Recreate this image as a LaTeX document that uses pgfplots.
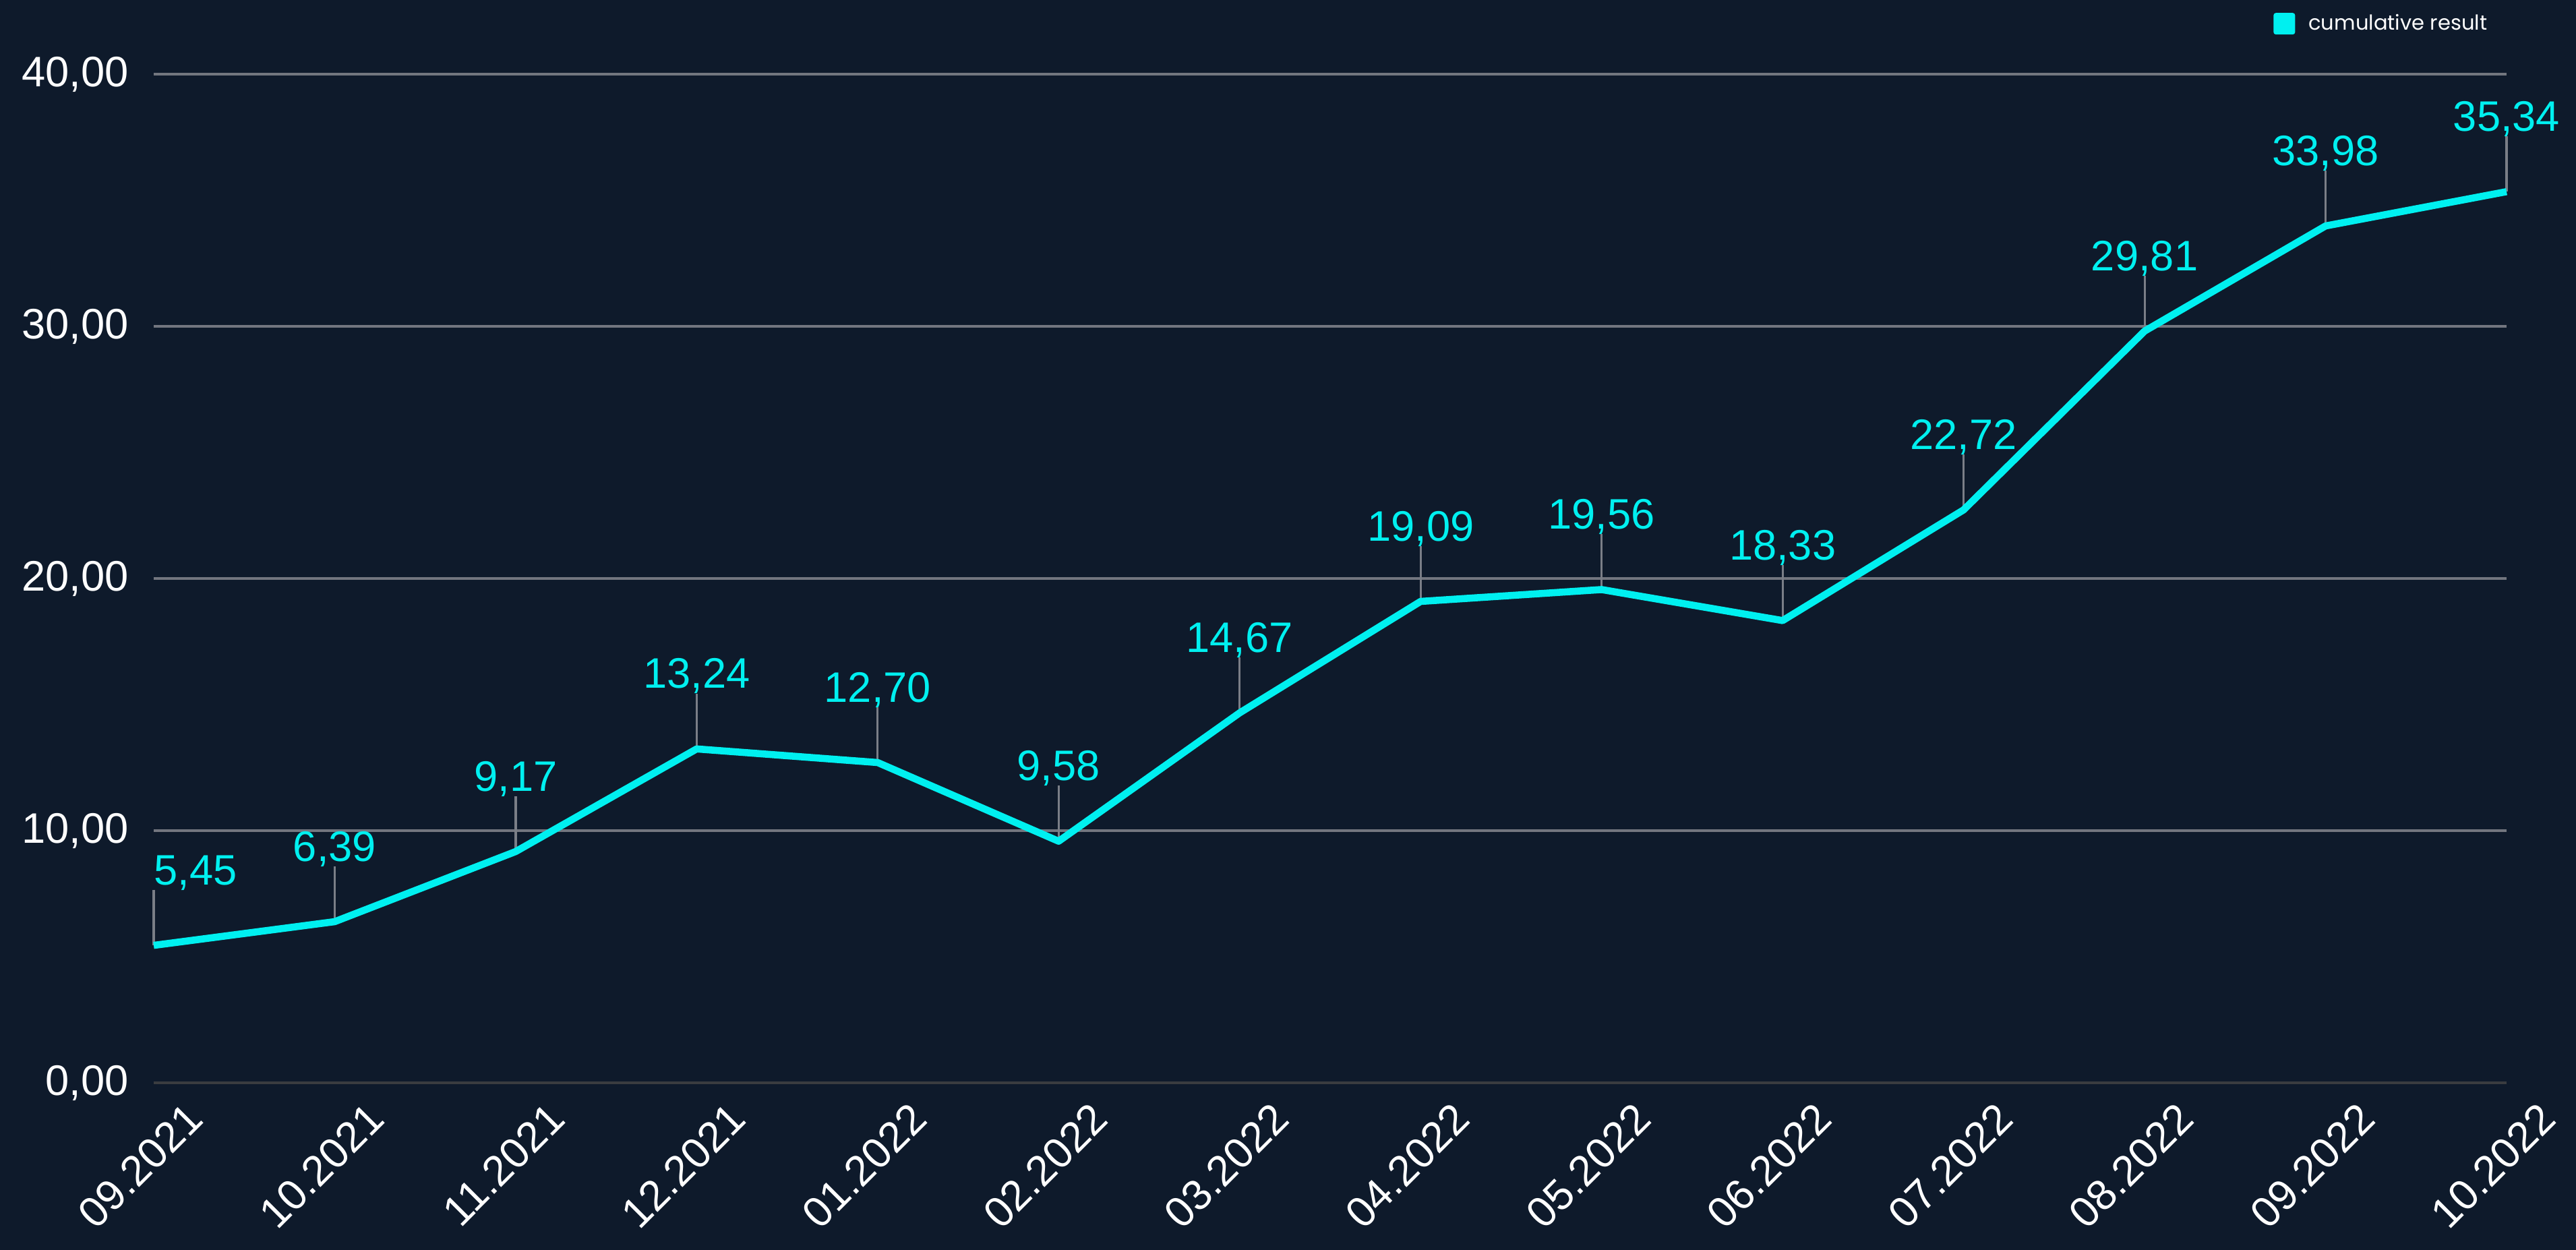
\documentclass[border=0pt]{standalone}
\usepackage{pgfplots}
\pgfplotsset{compat=1.18}
\usepackage{fontspec}
\setmainfont{Liberation Sans}
\newfontfamily\legfont{Poppins}
\definecolor{bg}{HTML}{0E1A2B}
\definecolor{cy}{HTML}{00F0F0}
\definecolor{gridc}{HTML}{72767F}
\definecolor{zeroc}{HTML}{3A3C40}
\definecolor{leadc}{HTML}{7A7E87}
\begin{document}
\begin{tikzpicture}
\fill[bg] (-2.28cm,-2.48cm) rectangle (35.93cm,16.06cm);
\begin{axis}[
  at={(0,0)}, anchor=south west,
  scale only axis, width=34.9cm, height=14.96cm,
  xmin=0, xmax=13, ymin=0, ymax=40,
  axis line style={draw=none},
  clip=false,
  ytick={0,10,20,30,40},
  xtick={0,...,13},
  xticklabels={09.2021,10.2021,11.2021,12.2021,01.2022,02.2022,03.2022,04.2022,05.2022,06.2022,07.2022,08.2022,09.2022,10.2022},
  ymajorgrids, grid style={gridc, line width=0.9pt},
  major tick length=0pt,
  tick label style={text=white, font=\fontsize{18}{20}\selectfont},
  yticklabel style={/pgf/number format/fixed, /pgf/number format/fixed zerofill, /pgf/number format/precision=2, /pgf/number format/use comma, /pgf/number format/assume math mode=true, xshift=-0.25cm},
  xticklabel style={rotate=45, anchor=north east, inner sep=0pt, xshift=0.14cm, yshift=-0.5cm},
  legend style={at={(0.997,1.05)}, anchor=east, draw=none, fill=none, text=white, font=\legfont\fontsize{8.7}{10}\selectfont},
  legend cell align=left,
  legend image code/.code={\fill[cy, draw=none, rounded corners=1pt] (0cm,-0.16cm) rectangle (0.32cm,0.16cm); \path[draw=none] (0.32cm,0) -- (0.45cm,0);},
]
\draw[zeroc, line width=0.9pt] (rel axis cs:0,0) -- (rel axis cs:1,0);
\addplot[draw=none, mark=none, forget plot,
  error bars/.cd, y dir=plus, y fixed=2.2, error mark=none,
  error bar style={draw=leadc, line width=0.9pt}]
  coordinates {(0,5.45) (1,6.39) (2,9.17) (3,13.24) (4,12.70) (5,9.58) (6,14.67) (7,19.09) (8,19.56) (9,18.33) (10,22.72) (11,29.81) (12,33.98) (13,35.34)};
\addplot[cy, line width=3pt, mark=none, line join=round]
  coordinates {(0,5.45) (1,6.39) (2,9.17) (3,13.24) (4,12.70) (5,9.58) (6,14.67) (7,19.09) (8,19.56) (9,18.33) (10,22.72) (11,29.81) (12,33.98) (13,35.34)};
\addlegendentry{cumulative result}
\addplot[draw=none, mark=none, forget plot, point meta=explicit symbolic,
  nodes near coords,
  nodes near coords style={text=cy, font=\fontsize{18}{20}\selectfont, anchor=base west, yshift=0.9cm, inner sep=0pt}]
  coordinates {(0,5.45) [5,45]};
\addplot[draw=none, mark=none, forget plot, point meta=explicit symbolic,
  nodes near coords,
  nodes near coords style={text=cy, font=\fontsize{18}{20}\selectfont, anchor=base, yshift=0.9cm, inner sep=0pt}]
  coordinates {(1,6.39) [6,39] (2,9.17) [9,17] (3,13.24) [13,24] (4,12.70) [12,70] (5,9.58) [9,58] (6,14.67) [14,67] (7,19.09) [19,09] (8,19.56) [19,56] (9,18.33) [18,33] (10,22.72) [22,72] (11,29.81) [29,81] (12,33.98) [33,98] (13,35.34) [35,34]};
\end{axis}
\pgfresetboundingbox
\path (-2.28cm,-2.48cm) rectangle (35.93cm,16.06cm);
\end{tikzpicture}
\end{document}
